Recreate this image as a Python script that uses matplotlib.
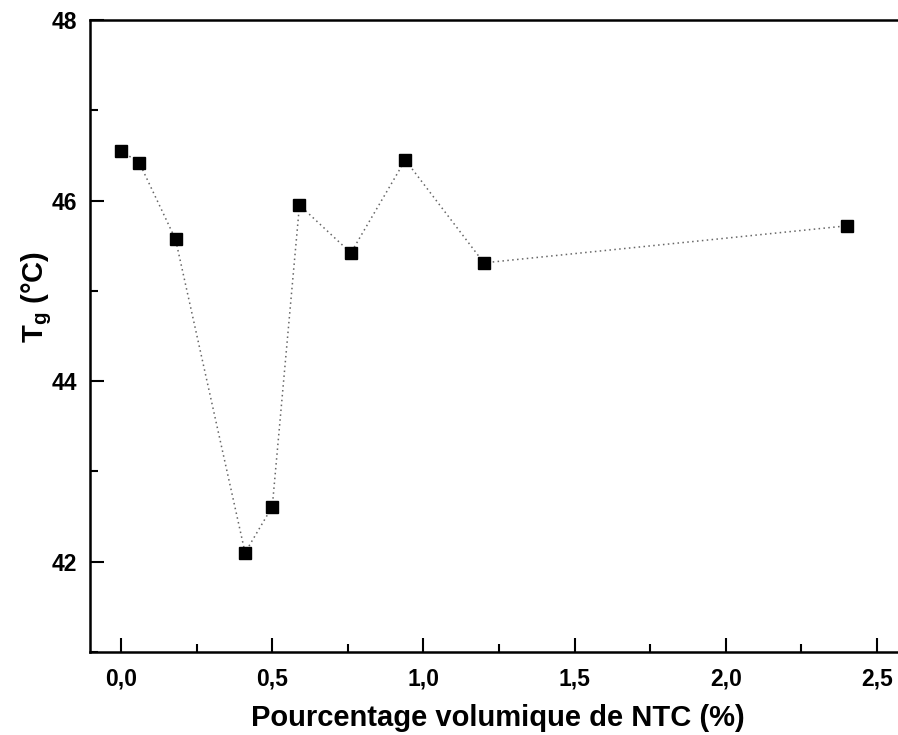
import numpy as np
import matplotlib
matplotlib.use("Agg")
import matplotlib.pyplot as plt
from matplotlib.ticker import MultipleLocator, FuncFormatter

plt.rcParams['font.family'] = ['Liberation Sans', 'DejaVu Sans']
plt.rcParams['font.weight'] = 'bold'
plt.rcParams['mathtext.fontset'] = 'custom'
plt.rcParams['mathtext.bf'] = 'Liberation Sans:bold'
plt.rcParams['mathtext.rm'] = 'Liberation Sans:bold'

# Data
ntc = [0.0, 0.06, 0.18, 0.41, 0.50, 0.59, 0.76, 0.94, 1.20, 2.40]
tg = [46.55, 46.42, 45.57, 42.10, 42.61, 45.95, 45.42, 46.45, 45.31, 45.72]

fig = plt.figure(figsize=(8.98, 7.35), dpi=100)
ax = fig.add_axes([90 / 898, 83 / 735, 1 - 90 / 898, 632 / 735])

ax.plot(ntc, tg, linestyle=(0, (1, 2.2)), color='#666666', linewidth=1.1,
        marker='s', markersize=9, markerfacecolor='black',
        markeredgecolor='black')

ax.set_xlim(-0.103, 2.57)
ax.set_ylim(41, 48)

ax.xaxis.set_major_locator(MultipleLocator(0.5))
ax.xaxis.set_minor_locator(MultipleLocator(0.25))
ax.yaxis.set_major_locator(MultipleLocator(2))
ax.yaxis.set_minor_locator(MultipleLocator(1))
ax.xaxis.set_major_formatter(FuncFormatter(lambda v, p: f"{v:.1f}".replace('.', ',')))
ax.yaxis.set_major_formatter(FuncFormatter(lambda v, p: f"{v:.0f}"))

ax.tick_params(which='major', direction='in', length=10, width=1.5, labelsize=16.5)
ax.tick_params(which='minor', direction='in', length=5.5, width=1.5)
ax.tick_params(axis='x', which='major', pad=11)
ax.tick_params(axis='y', which='major', pad=9)

for side in ['left', 'bottom', 'top']:
    ax.spines[side].set_linewidth(1.8)
ax.spines['right'].set_visible(False)

ax.set_xlabel('Pourcentage volumique de NTC (%)', fontsize=21, fontweight='bold')
ax.xaxis.set_label_coords((498 - 90) / 808, -(718 - 652) / 632)
ax.xaxis.label.set_va('center')
ax.set_ylabel(r'$\mathbf{T_g}$ (°C)', fontsize=21, fontweight='bold')
ax.yaxis.set_label_coords(-(90 - 54) / 808, (652 - 297) / 632)

fig.savefig('out.png', dpi=100)
